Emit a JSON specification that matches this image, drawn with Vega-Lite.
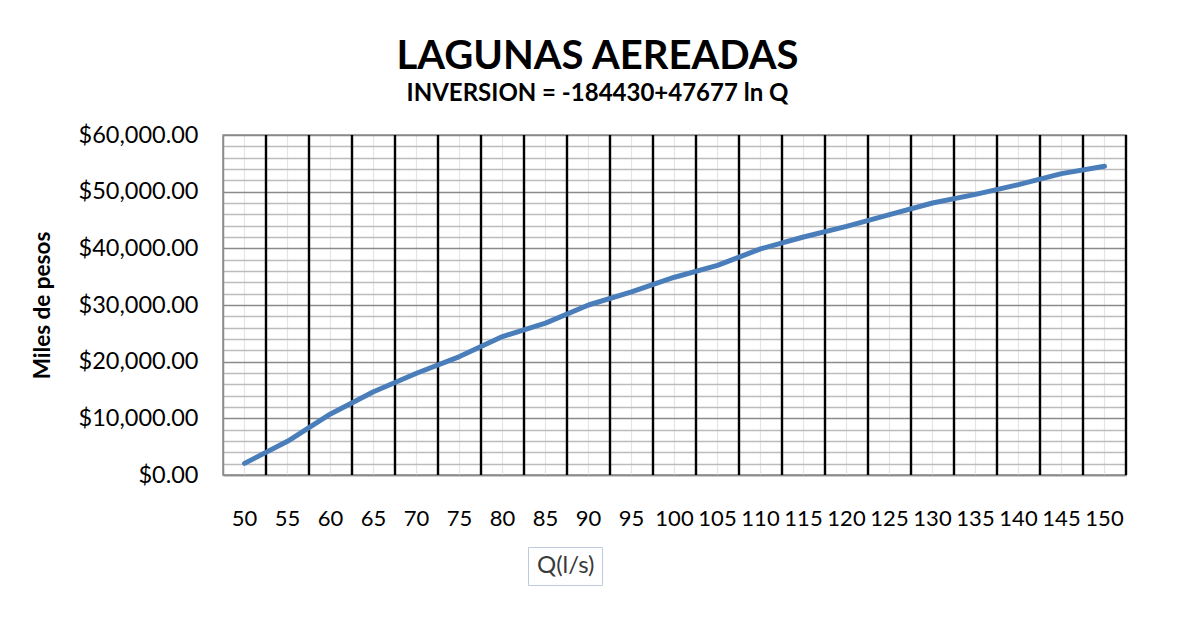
{
  "$schema": "https://vega.github.io/schema/vega-lite/v6.json",
  "width": 903,
  "height": 340,
  "autosize": {"type": "none"},
  "padding": {"left": 223, "top": 135, "right": 56, "bottom": 155},
  "background": "white",
  "config": {
    "font": "Lato",
    "view": {"stroke": "#8c8c8c", "strokeWidth": 1.5}
  },
  "title": {
    "text": "LAGUNAS AEREADAS",
    "subtitle": "INVERSION = -184430+47677 ln Q",
    "anchor": "middle",
    "dx": -77,
    "font": "Lato",
    "fontSize": 40,
    "fontWeight": "bold",
    "color": "#000000",
    "subtitleFont": "Lato",
    "subtitleFontSize": 24,
    "subtitleFontWeight": "bold",
    "subtitleColor": "#000000",
    "subtitlePadding": 5,
    "offset": 17
  },
  "data": {
    "values": [
      {"Q": 50, "inversion": 2050},
      {"Q": 55, "inversion": 5950},
      {"Q": 60, "inversion": 10780},
      {"Q": 65, "inversion": 14700},
      {"Q": 70, "inversion": 17950},
      {"Q": 75, "inversion": 20900},
      {"Q": 80, "inversion": 24430},
      {"Q": 85, "inversion": 26800},
      {"Q": 90, "inversion": 30000},
      {"Q": 95, "inversion": 32300},
      {"Q": 100, "inversion": 34900},
      {"Q": 105, "inversion": 37000},
      {"Q": 110, "inversion": 39900},
      {"Q": 115, "inversion": 42000},
      {"Q": 120, "inversion": 43870},
      {"Q": 125, "inversion": 45940},
      {"Q": 130, "inversion": 48000},
      {"Q": 135, "inversion": 49520},
      {"Q": 140, "inversion": 51240},
      {"Q": 145, "inversion": 53180},
      {"Q": 150, "inversion": 54470}
    ]
  },
  "layer": [
    {
      "mark": {"type": "rule", "color": "#000000", "strokeWidth": 2.4},
      "encoding": {
        "x": {
          "field": "Q",
          "type": "ordinal",
          "bandPosition": 1,
          "scale": {"type": "band", "paddingInner": 0, "paddingOuter": 0},
          "axis": {
            "title": null,
            "grid": true,
            "bandPosition": 0.5,
            "gridColor": "#e4e4e4",
            "gridWidth": 1.2,
            "ticks": false,
            "domainColor": "#8c8c8c",
            "domainWidth": 1.5,
            "labelAngle": 0,
            "labelFont": "Lato",
            "labelFontSize": 22,
            "labelColor": "#000000",
            "labelPadding": 33,
            "labelBaseline": "top"
          }
        }
      }
    },
    {
      "mark": {"type": "line", "strokeWidth": 5, "strokeCap": "round", "strokeJoin": "round"},
      "encoding": {
        "x": {"field": "Q", "type": "ordinal", "bandPosition": 0.5},
        "y": {
          "field": "inversion",
          "type": "quantitative",
          "scale": {"domain": [0, 60000], "nice": false, "zero": true},
          "axis": {
            "title": "Miles de pesos",
            "titleFont": "Lato",
            "titleFontSize": 22.5,
            "titleFontWeight": "bold",
            "titleColor": "#000000",
            "titlePadding": 24,
            "values": [0, 2000, 4000, 6000, 8000, 10000, 12000, 14000, 16000, 18000, 20000, 22000, 24000, 26000, 28000, 30000, 32000, 34000, 36000, 38000, 40000, 42000, 44000, 46000, 48000, 50000, 52000, 54000, 56000, 58000, 60000],
            "labelExpr": "datum.value % 10000 === 0 ? format(datum.value, '$,.2f') : ''",
            "labelFont": "Lato",
            "labelFontSize": 23.5,
            "labelColor": "#000000",
            "labelPadding": 25,
            "ticks": false,
            "grid": true,
            "gridColor": {"condition": {"test": "datum.value % 10000 === 0", "value": "#8a8a8a"}, "value": "#bcbcbc"},
            "gridWidth": 1.5,
            "domainColor": "#8c8c8c",
            "domainWidth": 1.5
          }
        },
        "color": {
          "datum": "Q(l/s)",
          "type": "nominal",
          "scale": {"range": ["#4a7ebb"]},
          "legend": {
            "orient": "none",
            "legendX": 305,
            "legendY": 412,
            "title": null,
            "strokeColor": "#bccbe0",
            "padding": 7,
            "symbolSize": 0,
            "symbolStrokeWidth": 0,
            "symbolOpacity": 0,
            "labelFont": "Lato",
            "labelFontSize": 24,
            "labelColor": "#3a3a3a",
            "labelOffset": -22,
            "labelLimit": 400
          }
        }
      }
    }
  ]
}
